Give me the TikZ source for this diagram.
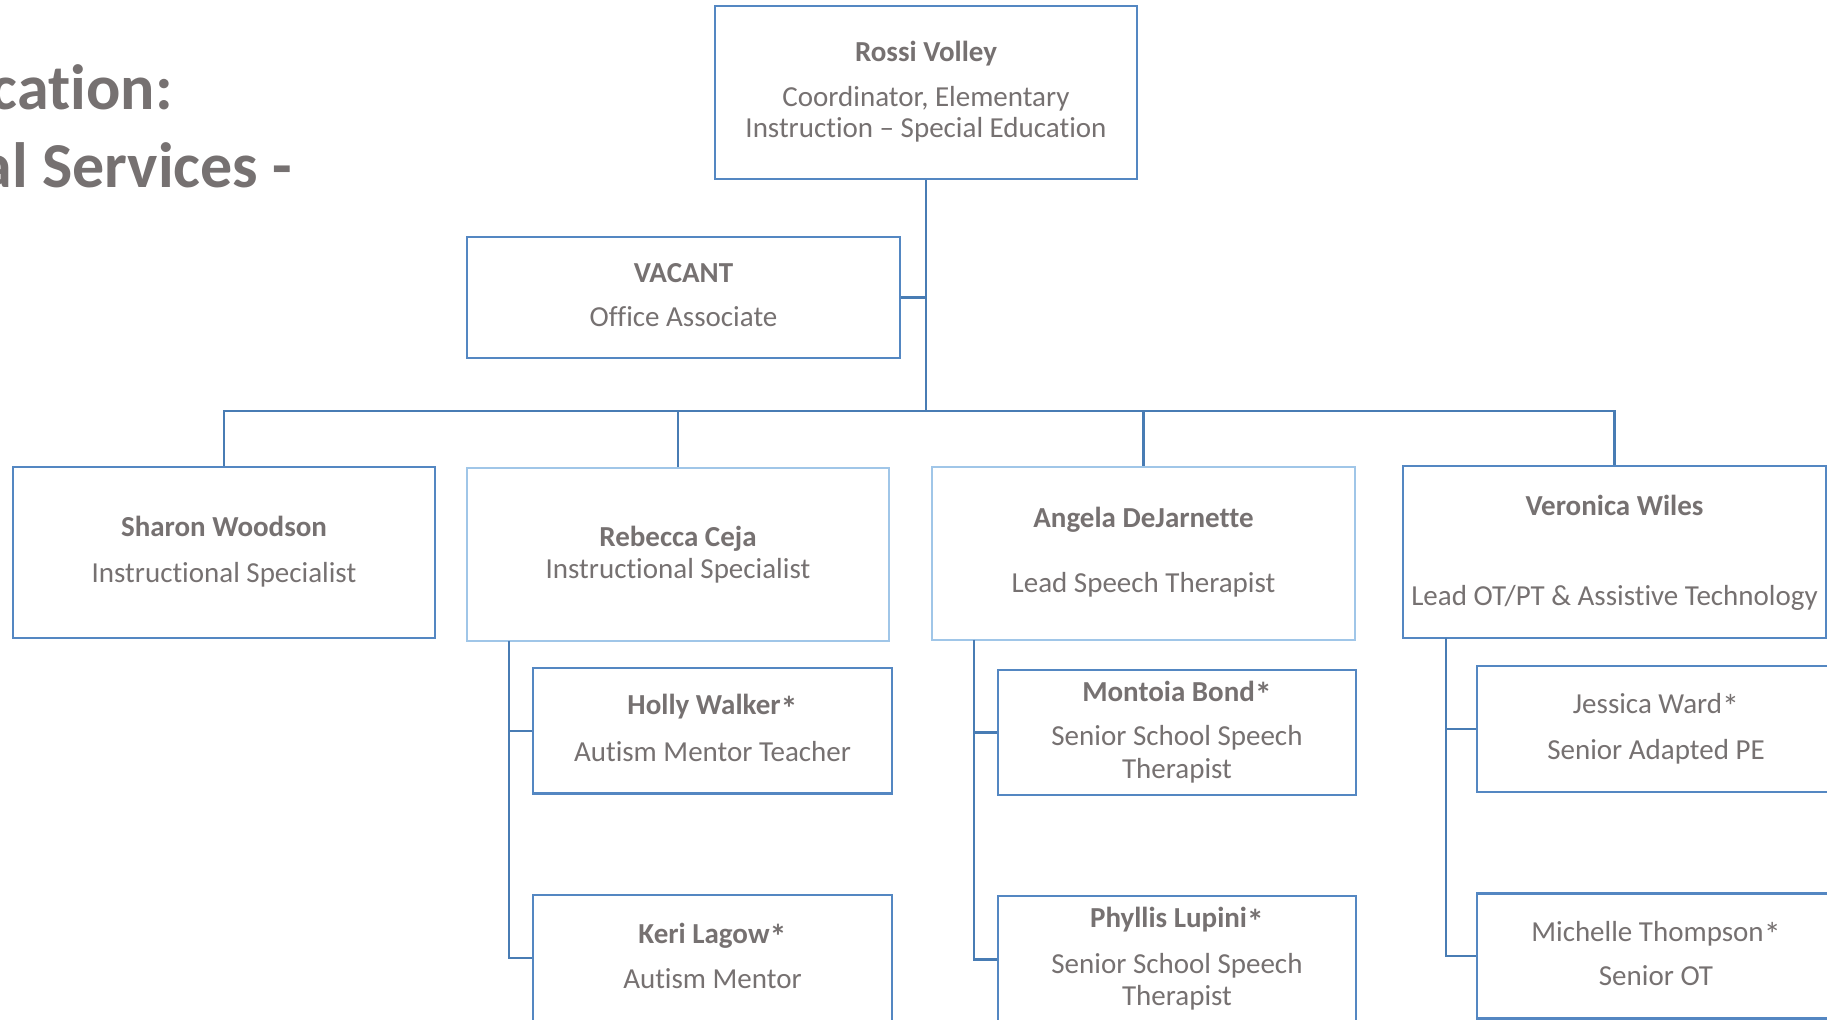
\documentclass[tikz,border=0pt]{standalone}
\usepackage{fontspec}
\setmainfont[Ligatures=NoCommon]{Carlito}
\usetikzlibrary{fit}
\definecolor{txt}{RGB}{118,113,113}
\definecolor{bdr}{RGB}{84,135,194}
\definecolor{lbdr}{RGB}{160,198,232}
\definecolor{conn}{RGB}{72,124,180}
\tikzset{
  box/.style={draw=bdr, line width=1.15pt, inner sep=0pt, fill=white},
  lbox/.style={box, draw=lbdr},
  nm/.style={anchor=base, inner sep=0pt, text=txt, font=\bfseries\fontsize{14.5}{17}\selectfont},
  nr/.style={anchor=base, inner sep=0pt, text=txt, font=\fontsize{14.5}{17}\selectfont},
  tl/.style={anchor=base, inner sep=0pt, text=txt, font=\fontsize{14.5}{17}\selectfont},
  big/.style={anchor=base east, inner sep=0pt, text=txt, font=\bfseries\fontsize{32}{38}\selectfont},
  conn/.style={draw=conn, line width=1.1pt}
}
\newcommand{\myast}{\raisebox{-2.6pt}{\fontsize{17}{17}\selectfont*}}
\begin{document}
\begin{tikzpicture}[x=0.5pt,y=-0.5pt]
\useasboundingbox (0,0) rectangle (1827,1020);
\clip (0,0) rectangle (1827,1020);
% title fragments
\node[big] (t1) at (173,110) {cation:};
\node[big] (t2) at (293,188) {al Services -};
% boxes
\node[box, fit={(715,6) (1137,179)}] (rossi) {};
\node[box, fit={(467,237) (900,358)}] (vacant) {};
\node[box, fit={(13,467) (435,638)}] (sharon) {};
\node[lbox, fit={(467,468) (889,641)}] (rebecca) {};
\node[lbox, fit={(932,467) (1355,640)}] (angela) {};
\node[box, fit={(1403,466) (1826,638)}] (veronica) {};
\node[box, fit={(533,668) (892,793.5)}] (holly) {};
\node[box, fit={(533,895) (892,1021)}] (keri) {};
\node[box, fit={(998,670) (1356,795)}] (montoia) {};
\node[box, fit={(998,896) (1356,1023)}] (phyllis) {};
\node[box, fit={(1477,666) (1840,792)}] (jessica) {};
\node[box, fit={(1477,893.5) (1840,1018.5)}] (michelle) {};
% connectors
\coordinate (bus) at (926,411);
\draw[conn] (rossi.south) -- (bus);
\draw[conn] (vacant.east) -- (vacant.east -| rossi.south);
\draw[conn] (sharon.north) |- (bus) -| (veronica.north);
\draw[conn] (rebecca.north) -- (rebecca.north |- bus);
\draw[conn] (angela.north) -- (angela.north |- bus);
\coordinate (rbt) at (509,641);
\draw[conn] (rbt) |- (keri.west);
\draw[conn] (rbt |- holly.west) -- (holly.west);
\coordinate (agt) at (974,640);
\draw[conn] (agt) |- (phyllis.west);
\draw[conn] (agt |- montoia.west) -- (montoia.west);
\coordinate (vwt) at (1446,638);
\draw[conn] (vwt) |- (michelle.west);
\draw[conn] (vwt |- jessica.west) -- (jessica.west);
% texts
\node[nm] (rossiN) at (926,62) {Rossi Volley};
\node[tl] (rossiT1) at (926,107) {Coordinator, Elementary};
\node[tl] (rossiT2) at (926,138) {Instruction – Special Education};
\node[nm] (vacantN) at (683.5,283) {VACANT};
\node[tl] (vacantT) at (683.5,327) {Office Associate};
\node[nm] (sharonN) at (224,537) {Sharon Woodson};
\node[tl] (sharonT) at (224,583) {Instructional Specialist};
\node[nm] (rebeccaN) at (678,547) {Rebecca Ceja};
\node[tl] (rebeccaT) at (678,579) {Instructional Specialist};
\node[nm] (angelaN) at (1143.5,528) {Angela DeJarnette};
\node[tl] (angelaT) at (1143.5,592.5) {Lead Speech Therapist};
\node[nm] (veronicaN) at (1614.5,516) {Veronica Wiles};
\node[tl] (veronicaT) at (1614.5,605.5) {Lead OT/PT \& Assistive Technology};
\node[nm] (hollyN) at (712.5,715) {Holly Walker\myast};
\node[tl] (hollyT) at (712.5,761.5) {Autism Mentor Teacher};
\node[nm] (keriN) at (712.5,943.5) {Keri Lagow\myast};
\node[tl] (keriT) at (712.5,988.5) {Autism Mentor};
\node[nm] (montoiaN) at (1177,701.5) {Montoia Bond\myast};
\node[tl] (montoiaT1) at (1177,746) {Senior School Speech};
\node[tl] (montoiaT2) at (1177,779) {Therapist};
\node[nm] (phyllisN) at (1177,928) {Phyllis Lupini\myast};
\node[tl] (phyllisT1) at (1177,974) {Senior School Speech};
\node[tl] (phyllisT2) at (1177,1006) {Therapist};
\node[nr] (jessicaN) at (1656,713.5) {Jessica Ward\myast};
\node[tl] (jessicaT) at (1656,760) {Senior Adapted PE};
\node[nr] (michelleN) at (1656,941.5) {Michelle Thompson\myast};
\node[tl] (michelleT) at (1656,986) {Senior OT};
\end{tikzpicture}
\end{document}
